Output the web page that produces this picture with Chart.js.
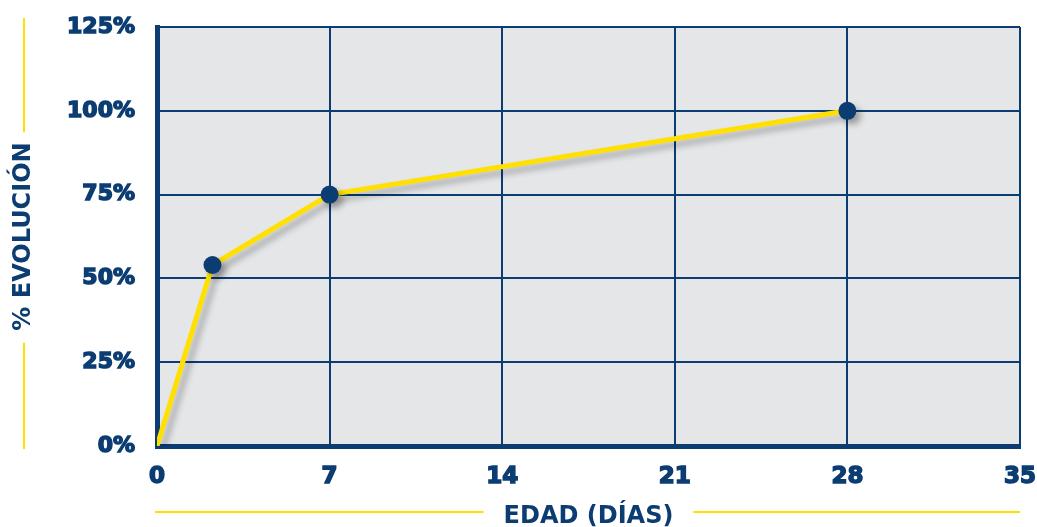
<!DOCTYPE html>
<html>
<head>
<meta charset="utf-8">
<script src="https://cdn.jsdelivr.net/npm/chart.js@4"></script>
<style>
  html, body { margin: 0; padding: 0; background: #fff; }
  #wrap { width: 1037px; height: 527px; }
</style>
</head>
<body>
<div id="wrap"><canvas id="chart" width="1037" height="527"></canvas></div>
<script>
// edad (días) vs % evolución
const dias = [0, 2.25, 7, 28];
const evolucion = [0, 54, 75, 100];
const xTicks = [0, 7, 14, 21, 28, 35];
const yTicks = [0, 25, 50, 75, 100, 125];

const navy = '#0b3c72';
const yellow = '#ffe000';
const font = 'DejaVu Sans';

// drop the label padding chart.js adds, layout.padding decides the plot box
function noPad(s) {
  s.paddingLeft = 0;
  s.paddingRight = 0;
  s.paddingTop = 0;
  s.paddingBottom = 0;
}

// gray plot background + shadow on the line
const plotBg = {
  id: 'plotBg',
  beforeDraw(chart) {
    const {ctx, chartArea: a} = chart;
    ctx.save();
    ctx.fillStyle = '#e5e6e8';
    ctx.fillRect(a.left, a.top, a.right - a.left, a.bottom - a.top);
    ctx.restore();
  },
  beforeDatasetDraw(chart) {
    const ctx = chart.ctx;
    ctx.save();
    ctx.shadowColor = 'rgba(0,0,0,0.28)';
    ctx.shadowBlur = 6;
    ctx.shadowOffsetX = 5;
    ctx.shadowOffsetY = 5;
  },
  afterDatasetDraw(chart) {
    chart.ctx.restore();
  }
};

// yellow rules beside the axis titles
const titleRules = {
  id: 'titleRules',
  afterDraw(chart) {
    const {ctx, chartArea: a} = chart;
    ctx.save();
    ctx.strokeStyle = yellow;
    ctx.lineWidth = 2;
    ctx.font = 'bold 24px "' + font + '"';

    const xw = ctx.measureText(chart.options.scales.x.title.text).width;
    const cx = (a.left + a.right) / 2;
    ctx.beginPath();
    ctx.moveTo(a.left - 2, 512);
    ctx.lineTo(cx - xw / 2 - 20, 512);
    ctx.moveTo(cx + xw / 2 + 20, 512);
    ctx.lineTo(a.right, 512);
    ctx.stroke();

    const yw = ctx.measureText(chart.options.scales.y.title.text).width;
    const cy = (a.top + a.bottom) / 2 + 1;
    ctx.beginPath();
    ctx.moveTo(24, 18);
    ctx.lineTo(24, cy - yw / 2 - 11);
    ctx.moveTo(24, cy + yw / 2 + 11);
    ctx.lineTo(24, 449);
    ctx.stroke();
    ctx.restore();
  }
};

new Chart(document.getElementById('chart'), {
  type: 'scatter',
  data: {
    datasets: [{
      data: dias.map((d, i) => ({x: d, y: evolucion[i]})),
      showLine: true,
      borderColor: yellow,
      borderWidth: 5,
      borderCapStyle: 'round',
      borderJoinStyle: 'round',
      pointRadius: [0, 9, 9, 9],
      pointHoverRadius: [0, 9, 9, 9],
      pointBackgroundColor: navy,
      pointBorderWidth: 0
    }]
  },
  options: {
    responsive: false,
    animation: false,
    layout: { padding: { left: 0, right: 17, top: 27, bottom: 0 } },
    plugins: { legend: { display: false }, tooltip: { enabled: false } },
    scales: {
      x: {
        type: 'linear',
        min: 0, max: 35,
        afterFit(s) { s.height = 81; noPad(s); },
        afterBuildTicks(s) { s.ticks = xTicks.map(v => ({value: v})); },
        grid: { color: navy, lineWidth: 2, drawTicks: false },
        border: { color: navy, width: 5 },
        ticks: {
          color: navy,
          padding: 17,
          textStrokeColor: navy,
          textStrokeWidth: 1.5,
          font: { family: font, size: 23, weight: 'bold' }
        },
        title: {
          display: true,
          text: 'EDAD (DÍAS)',
          color: navy,
          padding: 0,
          font: { family: font, size: 24, weight: 'bold', lineHeight: 0.85 }
        }
      },
      y: {
        min: 0, max: 125,
        afterFit(s) { s.width = 157; noPad(s); },
        afterBuildTicks(s) { s.ticks = yTicks.map(v => ({value: v})); },
        grid: { color: navy, lineWidth: 2, drawTicks: false },
        border: { color: navy, width: 5 },
        ticks: {
          color: navy,
          padding: 22,
          textStrokeColor: navy,
          textStrokeWidth: 1.5,
          font: { family: font, size: 22, weight: 'bold' },
          callback: v => v + '%'
        },
        title: {
          display: true,
          text: '% EVOLUCIÓN',
          color: navy,
          padding: { top: 12, bottom: 0 },
          font: { family: font, size: 24, weight: 'bold', lineHeight: 1 }
        }
      }
    }
  },
  plugins: [plotBg, titleRules]
});
</script>
</body>
</html>
